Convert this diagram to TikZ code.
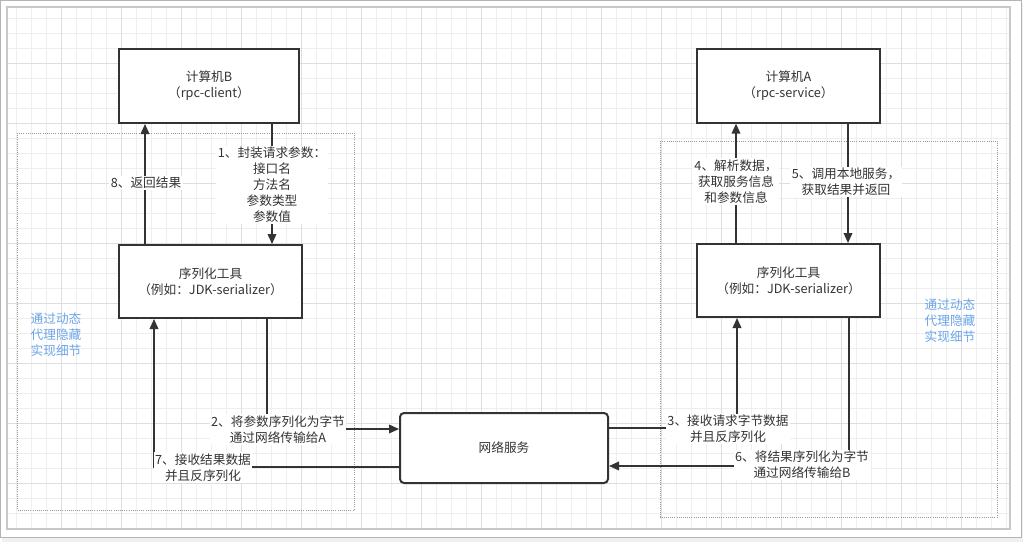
\documentclass[tikz,border=0pt]{standalone}
\usepackage{fontspec}
\setmainfont{Noto Sans CJK SC}
\usetikzlibrary{arrows.meta}
\definecolor{ln}{HTML}{333333}
\definecolor{gridminor}{HTML}{EEEEEE}
\definecolor{gridmajor}{HTML}{DEDEDE}
\definecolor{hint}{HTML}{6CA6E8}
\definecolor{frameout}{HTML}{B4B4B4}
\definecolor{framein}{HTML}{C8C8C8}
\tikzset{
  box/.style={draw=ln, line width=1.5pt, fill=white, inner sep=0pt, align=center, text=ln},
  arr/.style={draw=ln, line width=1.1pt, -{Triangle[length=7.5pt,width=6.5pt]}},
  lbl/.style={fill=white, inner sep=1pt, align=center, text=ln},
  hinttext/.style={align=center, text=hint, inner sep=0pt},
  dotframe/.style={draw=gray!80, densely dotted, line width=0.6pt},
  gminor/.style={draw=gridminor, line width=0.5pt},
  gmajor/.style={draw=gridmajor, line width=0.6pt}
}
\begin{document}
\begin{tikzpicture}[x=0.75pt,y=-0.75pt, font=\fontsize{9.5}{12}\selectfont]
\useasboundingbox (0,0) rectangle (1023,542);
\fill[white] (0,0) rectangle (1023,542);
\fill[gray!12] (2,538) rectangle (1023,542);
\fill[gray!12] (1021.5,3) rectangle (1023,542);
% grid
\begin{scope}
\clip (7,7) rectangle (1010,529);
\foreach \x in {16.7,31.7,...,1012} \draw[gminor] (\x,7) -- (\x,529);
\foreach \y in {18,33,...,530} \draw[gminor] (7,\y) -- (1010,\y);
\foreach \x in {61.7,121.7,...,1012} \draw[gmajor] (\x,7) -- (\x,529);
\foreach \y in {63,123,...,530} \draw[gmajor] (7,\y) -- (1010,\y);
\end{scope}
\draw[framein, line width=0.8pt] (7,7) rectangle (1010,529);
\draw[frameout, line width=1pt] (0.8,0.8) rectangle (1021.5,537.8);
% dotted frames
\draw[dotframe] (17,133) rectangle (354,510);
\draw[dotframe] (660,141) rectangle (997,517);
% nodes
\node[box, minimum width=135pt, minimum height=55.5pt] (B) at (209,86) {计算机B\\（rpc-client）};
\node[box, minimum width=137.25pt, minimum height=55pt] (A) at (788.5,86) {计算机A\\（rpc-service）};
\node[box, minimum width=137.25pt, minimum height=54.75pt] (SL) at (210.5,281.5) {序列化工具\\（例如：JDK-serializer）};
\node[box, minimum width=137.25pt, minimum height=54.75pt] (SR) at (788.5,280.5) {序列化工具\\（例如：JDK-serializer）};
\node[box, rounded corners=3pt, minimum width=156pt, minimum height=52.5pt] (Net) at (504,448) {网络服务};
% helper coordinates
\coordinate (x8) at (145,0);
\coordinate (x1) at (272,0);
\coordinate (x2) at (267,0);
\coordinate (y2) at (0,429);
\coordinate (x7) at (154,0);
\coordinate (y7) at (0,467);
\coordinate (x3) at (737,0);
\coordinate (y3) at (0,428);
\coordinate (x6) at (849,0);
\coordinate (y6) at (0,466);
\coordinate (x4) at (736,0);
\coordinate (x5) at (848,0);
% connectors
\draw[arr] (SL.north -| x8) -- (B.south -| x8);
\draw[arr] (B.south -| x1) -- (SL.north -| x1);
\draw[arr] (SL.south -| x2) |- (Net.west |- y2);
\draw[arr] (Net.west |- y7) -| (SL.south -| x7);
\draw[arr] (Net.east |- y3) -| (SR.south -| x3);
\draw[arr] (SR.south -| x6) |- (Net.east |- y6);
\draw[arr] (SR.north -| x4) -- (A.south -| x4);
\draw[arr] (A.south -| x5) -- (SR.north -| x5);
% labels
\node[lbl] (l8) at (146,183) {8、返回结果};
\node[lbl] (l1) at (272,185) {1、封装请求参数：\\接口名\\方法名\\参数类型\\参数值};
\node[lbl] (l2) at (278,429.5) {2、将参数序列化为字节\\通过网络传输给A};
\node[lbl] (l7) at (203,467.5) {7、接收结果数据\\并且反序列化};
\node[lbl] (l4) at (736,181.5) {4、解析数据，\\获取服务信息\\和参数信息};
\node[lbl] (l5) at (846,182) {5、调用本地服务，\\获取结果并返回};
\node[lbl] (l3) at (728,429) {3、接收请求字节数据\\并且反序列化};
\node[lbl] (l6) at (802,465) {6、将结果序列化为字节\\通过网络传输给B};
% hints
\node[hinttext] (hl) at (56,335) {通过动态\\代理隐藏\\实现细节};
\node[hinttext] (hr) at (950,321) {通过动态\\代理隐藏\\实现细节};
\end{tikzpicture}
\end{document}
